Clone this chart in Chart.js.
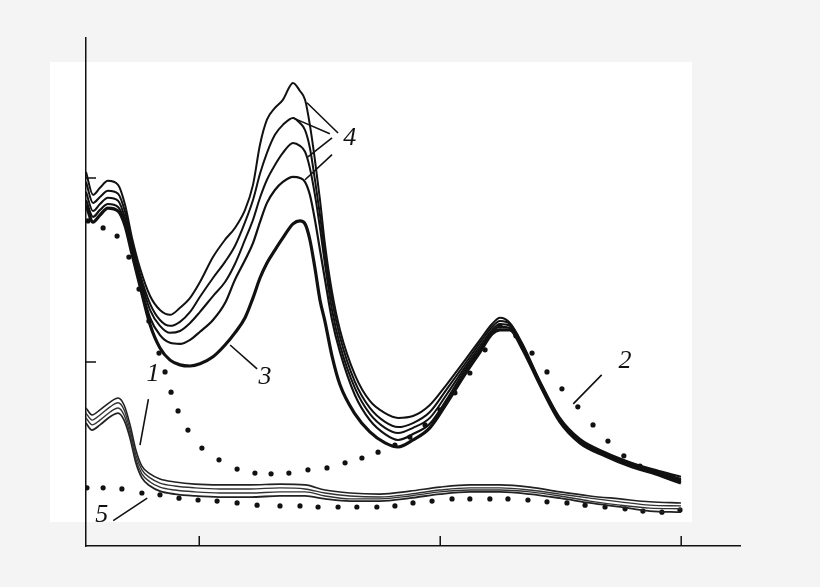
<!DOCTYPE html>
<html>
<head>
<meta charset="utf-8">
<script src="https://cdn.jsdelivr.net/npm/chart.js@4.4.0/dist/chart.umd.min.js"></script>
<style>
  html, body { margin: 0; padding: 0; background: #f4f4f4; }
  canvas { display: block; }
</style>
</head>
<body>
<canvas id="c" width="820" height="587"></canvas>
<script>
// ---- data (wavelength, nm ; absorbance) ----
const upperWl = [253.0,255.9,258.8,262.1,266.3,269.2,272.1,275.4,279.6,283.7,287.9,292.0,296.2,300.3,305.7,310.7,314.8,319.0,322.3,325.2,328.1,331.4,334.7,338.9,341.8,343.9,345.9,348.0,350.1,352.2,355.1,358.4,364.6,370.8,377.1,382.5,388.7,395.7,402.8,410.3,416.5,421.5,424.8,428.9,433.9,441.4,449.7,458.0,468.4,478.7,489.1,499.9];
const curve4a = [1.016,0.954,0.973,0.992,0.981,0.927,0.837,0.755,0.679,0.641,0.628,0.647,0.674,0.717,0.785,0.832,0.864,0.913,0.981,1.090,1.158,1.190,1.212,1.258,1.236,1.212,1.144,1.049,0.940,0.818,0.690,0.587,0.465,0.394,0.361,0.348,0.353,0.383,0.440,0.505,0.560,0.603,0.620,0.606,0.552,0.448,0.348,0.291,0.255,0.228,0.207,0.188];
const curve4b = [0.989,0.932,0.948,0.965,0.957,0.908,0.823,0.739,0.658,0.614,0.598,0.609,0.636,0.677,0.728,0.772,0.815,0.880,0.940,1.011,1.068,1.117,1.144,1.163,1.149,1.130,1.082,0.995,0.899,0.791,0.668,0.568,0.446,0.375,0.337,0.323,0.334,0.364,0.427,0.495,0.552,0.595,0.611,0.603,0.549,0.446,0.345,0.288,0.253,0.226,0.204,0.182];
const curve4c = [0.962,0.910,0.929,0.946,0.938,0.891,0.813,0.728,0.641,0.598,0.579,0.584,0.606,0.636,0.679,0.717,0.766,0.832,0.886,0.946,0.995,1.035,1.068,1.095,1.087,1.071,1.027,0.954,0.864,0.764,0.641,0.546,0.429,0.359,0.321,0.307,0.321,0.348,0.413,0.486,0.543,0.587,0.603,0.598,0.546,0.443,0.342,0.285,0.250,0.223,0.201,0.179];
const curve4d = [0.940,0.894,0.913,0.929,0.921,0.880,0.804,0.717,0.620,0.573,0.552,0.549,0.560,0.582,0.614,0.660,0.723,0.777,0.823,0.880,0.932,0.967,0.989,1.003,1.000,0.989,0.954,0.886,0.804,0.723,0.614,0.527,0.410,0.342,0.304,0.288,0.304,0.332,0.399,0.478,0.535,0.582,0.595,0.592,0.541,0.440,0.340,0.283,0.247,0.220,0.198,0.177];
const curve3  = [0.927,0.880,0.899,0.918,0.910,0.870,0.793,0.707,0.601,0.538,0.505,0.492,0.489,0.495,0.514,0.546,0.579,0.620,0.674,0.728,0.769,0.804,0.837,0.875,0.883,0.875,0.832,0.755,0.668,0.609,0.516,0.438,0.359,0.310,0.280,0.269,0.288,0.321,0.389,0.467,0.527,0.576,0.587,0.587,0.538,0.438,0.337,0.280,0.245,0.217,0.196,0.171];

const lowerWl = [253.0,255.5,258.8,263.0,266.3,268.8,271.3,273.7,276.2,279.6,283.7,289.9,298.2,308.6,321.0,333.5,343.9,352.2,362.5,375.0,387.4,399.9,412.3,424.8,437.2,449.7,462.1,474.6,487.0,499.9];
const curve1a = [0.375,0.356,0.370,0.391,0.402,0.383,0.329,0.261,0.217,0.196,0.182,0.174,0.168,0.166,0.166,0.168,0.166,0.152,0.144,0.141,0.149,0.160,0.166,0.166,0.160,0.147,0.136,0.128,0.120,0.117];
const curve1b = [0.361,0.342,0.356,0.378,0.389,0.370,0.315,0.247,0.207,0.185,0.171,0.163,0.158,0.155,0.155,0.158,0.155,0.144,0.136,0.133,0.141,0.152,0.158,0.158,0.152,0.141,0.130,0.120,0.111,0.109];
const curve1c = [0.348,0.329,0.342,0.364,0.375,0.356,0.304,0.236,0.196,0.174,0.160,0.152,0.147,0.144,0.144,0.147,0.147,0.136,0.128,0.128,0.136,0.147,0.152,0.152,0.147,0.136,0.122,0.111,0.103,0.101];
const curve1d = [0.334,0.315,0.329,0.351,0.361,0.342,0.293,0.226,0.185,0.163,0.149,0.141,0.136,0.133,0.133,0.136,0.136,0.128,0.122,0.122,0.130,0.141,0.147,0.147,0.141,0.130,0.117,0.106,0.095,0.092];

const curve2Wl  = [253.8,260.1,265.9,270.8,275.0,279.1,283.3,285.8,288.3,291.2,295.3,301.1,308.2,315.7,323.1,329.8,337.2,345.1,353.0,360.5,367.5,374.2,381.2,387.4,393.7,399.9,406.1,412.3,418.6,424.8,431.4,438.1,444.3,450.5,457.1,463.4,469.6,476.2,482.9,489.5,496.2];
const curve2Abs = [0.883,0.864,0.842,0.785,0.698,0.611,0.524,0.473,0.418,0.367,0.315,0.266,0.234,0.209,0.198,0.196,0.198,0.207,0.212,0.226,0.239,0.255,0.274,0.296,0.329,0.370,0.416,0.470,0.533,0.598,0.571,0.524,0.473,0.427,0.378,0.329,0.285,0.245,0.217,0.201,0.188];

const curve5Wl  = [253.4,260.1,267.9,276.2,283.7,291.6,299.5,307.4,315.7,324.0,333.5,341.8,349.3,357.6,365.4,373.7,381.2,388.7,396.6,404.9,412.3,420.6,428.1,436.4,444.3,452.6,460.1,468.4,476.7,484.1,492.0,499.5];
const curve5Abs = [0.158,0.158,0.155,0.144,0.139,0.130,0.125,0.122,0.117,0.111,0.109,0.109,0.106,0.106,0.106,0.106,0.109,0.117,0.122,0.128,0.128,0.128,0.128,0.125,0.120,0.117,0.111,0.106,0.101,0.095,0.092,0.098];

const xTicks = [300, 400, 500];
const yTicks = [0.5, 1.0];

// curve labels and leader lines (data units)
const curveLabels = [
  { text: '4', x: 362.5, y: 1.109 },
  { text: '3', x: 327.3, y: 0.459 },
  { text: '1', x: 280.8, y: 0.467 },
  { text: '2', x: 476.7, y: 0.501 },
  { text: '5', x: 259.5, y: 0.084 }
];
const leaderLines = [
  [357.6, 1.122, 344.7, 1.204],
  [354.2, 1.120, 338.9, 1.163],
  [355.1, 1.109, 345.1, 1.057],
  [355.1, 1.063, 343.9, 0.995],
  [312.8, 0.546, 324.0, 0.481],
  [278.9, 0.399, 275.4, 0.274],
  [467.0, 0.465, 455.2, 0.386],
  [278.4, 0.130, 264.3, 0.069]
];

// ---- build datasets ----
const pts = (xs, ys) => xs.map((x, i) => ({ x: x, y: ys[i] }));
const solid = (xs, ys, w, col) => ({
  data: pts(xs, ys), borderColor: col, borderWidth: w, pointRadius: 0,
  fill: false, cubicInterpolationMode: 'monotone'
});
const dotted = (xs, ys) => ({
  data: pts(xs, ys), showLine: false, pointRadius: 2.6, pointHoverRadius: 0,
  pointBackgroundColor: '#111', pointBorderWidth: 0, borderColor: '#111'
});

const datasets = [
  solid(upperWl, curve4a, 2, '#111'),
  solid(upperWl, curve4b, 2, '#111'),
  solid(upperWl, curve4c, 2, '#111'),
  solid(upperWl, curve4d, 2.2, '#111'),
  solid(upperWl, curve3, 3.2, '#111'),
  solid(lowerWl, curve1a, 1.6, '#222'),
  solid(lowerWl, curve1b, 1.4, '#333'),
  solid(lowerWl, curve1c, 1.4, '#333'),
  solid(lowerWl, curve1d, 1.8, '#222'),
  dotted(curve2Wl, curve2Abs),
  dotted(curve5Wl, curve5Abs)
];

const decor = {
  id: 'decor',
  beforeDraw(chart) {
    const ctx = chart.ctx;
    ctx.save();
    ctx.fillStyle = '#f4f4f4';
    ctx.fillRect(0, 0, chart.width, chart.height);
    ctx.fillStyle = '#ffffff';
    ctx.fillRect(50, 62, 642, 460);
    ctx.restore();
  },
  afterDatasetsDraw(chart) {
    const ctx = chart.ctx;
    const xs = chart.scales.x, ys = chart.scales.y;
    const area = chart.chartArea;
    ctx.save();
    ctx.strokeStyle = '#111';
    ctx.lineWidth = 1.5;
    ctx.beginPath();
    xTicks.forEach(v => {
      const px = xs.getPixelForValue(v);
      ctx.moveTo(px, area.bottom);
      ctx.lineTo(px, area.bottom - 10);
    });
    yTicks.forEach(v => {
      const py = ys.getPixelForValue(v);
      ctx.moveTo(area.left, py);
      ctx.lineTo(area.left + 10, py);
    });
    ctx.stroke();

    ctx.lineWidth = 1.6;
    ctx.beginPath();
    leaderLines.forEach(l => {
      ctx.moveTo(xs.getPixelForValue(l[0]), ys.getPixelForValue(l[1]));
      ctx.lineTo(xs.getPixelForValue(l[2]), ys.getPixelForValue(l[3]));
    });
    ctx.stroke();

    ctx.fillStyle = '#111';
    ctx.font = 'italic 26px "Liberation Serif", "DejaVu Serif", serif';
    ctx.textAlign = 'center';
    ctx.textBaseline = 'middle';
    curveLabels.forEach(l => {
      ctx.fillText(l.text, xs.getPixelForValue(l.x), ys.getPixelForValue(l.y));
    });
    ctx.restore();
  }
};

new Chart(document.getElementById('c'), {
  type: 'line',
  data: { datasets: datasets },
  options: {
    responsive: false,
    animation: false,
    events: [],
    layout: { padding: { left: 86, top: 38, right: 80, bottom: 41 } },
    plugins: { legend: { display: false }, tooltip: { enabled: false }, title: { display: false } },
    scales: {
      x: {
        type: 'linear', min: 253, max: 524.4,
        ticks: { display: false },
        grid: { display: false, drawTicks: false },
        border: { display: true, color: '#111', width: 1.5 }
      },
      y: {
        type: 'linear', min: 0, max: 1.38,
        ticks: { display: false },
        grid: { display: false, drawTicks: false },
        border: { display: true, color: '#111', width: 1.5 }
      }
    }
  },
  plugins: [decor]
});
</script>
</body>
</html>
